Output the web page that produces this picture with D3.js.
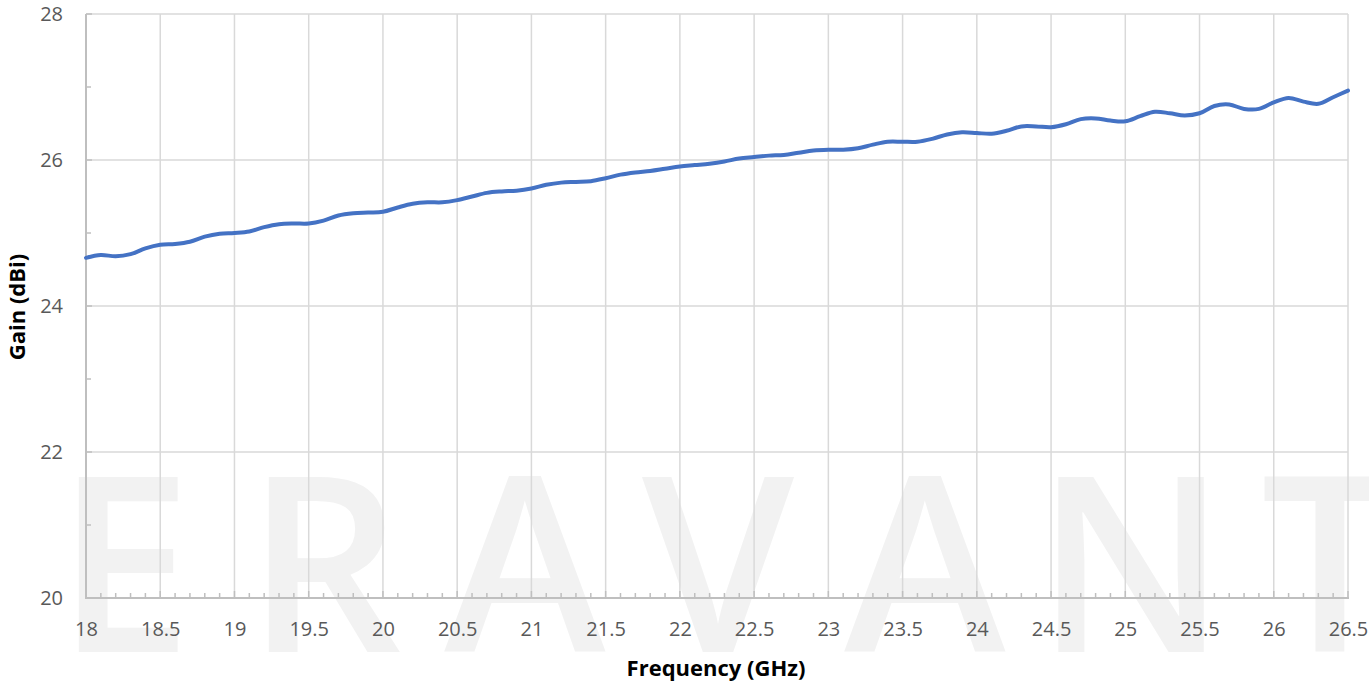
<!DOCTYPE html>
<html>
<head>
<meta charset="utf-8">
<script src="https://cdn.jsdelivr.net/npm/d3@7"></script>
<style>
  html, body { margin: 0; padding: 0; background: #ffffff; }
  svg { display: block; }
</style>
</head>
<body>
<svg id="chart" width="1369" height="684"></svg>
<script>
// Antenna gain across the K band, sampled every 0.1 GHz
const frequencies = [
  18.0, 18.1, 18.2, 18.3, 18.4, 18.5, 18.6, 18.7, 18.8, 18.9,
  19.0, 19.1, 19.2, 19.3, 19.4, 19.5, 19.6, 19.7, 19.8, 19.9,
  20.0, 20.1, 20.2, 20.3, 20.4, 20.5, 20.6, 20.7, 20.8, 20.9,
  21.0, 21.1, 21.2, 21.3, 21.4, 21.5, 21.6, 21.7, 21.8, 21.9,
  22.0, 22.1, 22.2, 22.3, 22.4, 22.5, 22.6, 22.7, 22.8, 22.9,
  23.0, 23.1, 23.2, 23.3, 23.4, 23.5, 23.6, 23.7, 23.8, 23.9,
  24.0, 24.1, 24.2, 24.3, 24.4, 24.5, 24.6, 24.7, 24.8, 24.9,
  25.0, 25.1, 25.2, 25.3, 25.4, 25.5, 25.6, 25.7, 25.8, 25.9,
  26.0, 26.1, 26.2, 26.3, 26.4, 26.5
];
const gainDbi = [
  24.66, 24.70, 24.68, 24.71, 24.79, 24.84, 24.85, 24.88, 24.95, 24.99,
  25.00, 25.02, 25.08, 25.12, 25.13, 25.13, 25.17, 25.24, 25.27, 25.28,
  25.29, 25.35, 25.40, 25.42, 25.42, 25.45, 25.50, 25.55, 25.57, 25.58,
  25.61, 25.66, 25.69, 25.70, 25.71, 25.75, 25.80, 25.83, 25.85, 25.88,
  25.91, 25.93, 25.95, 25.98, 26.02, 26.04, 26.06, 26.07, 26.10, 26.13,
  26.14, 26.14, 26.16, 26.21, 26.25, 26.25, 26.25, 26.29, 26.35, 26.38,
  26.37, 26.36, 26.40, 26.46, 26.46, 26.45, 26.49, 26.56, 26.57, 26.54,
  26.53, 26.60, 26.66, 26.64, 26.61, 26.64, 26.74, 26.76, 26.70, 26.70,
  26.79, 26.85, 26.80, 26.77, 26.86, 26.95
];
const xTickLabels = ["18", "18.5", "19", "19.5", "20", "20.5", "21", "21.5", "22",
                     "22.5", "23", "23.5", "24", "24.5", "25", "25.5", "26", "26.5"];
const yTickLabels = ["20", "22", "24", "26", "28"];
const watermarkLetters = ["E", "R", "A", "V", "A", "N", "T"];

const svg = d3.select("#chart");
const margin = { left: 86, right: 21, top: 14, bottom: 86 };
const W = 1369, H = 684;
const innerW = W - margin.left - margin.right;
const innerH = H - margin.top - margin.bottom;

const x = d3.scaleLinear().domain([18, 26.5]).range([margin.left, margin.left + innerW]);
const y = d3.scaleLinear().domain([20, 28]).range([margin.top + innerH, margin.top]);

const xMajor = xTickLabels.map(Number);
const yMajor = yTickLabels.map(Number);
const xMinor = d3.range(180, 266).map(v => v / 10).filter(v => !xMajor.some(m => Math.abs(m - v) < 1e-9));
const yMinor = d3.range(21, 28, 2);

// Brand watermark sitting behind the plot
const wm = svg.append("g").attr("class", "watermark");
const wmCenters = [124, 324, 525, 718, 925, 1131, 1330];
wm.selectAll("text")
  .data(watermarkLetters)
  .join("text")
  .attr("x", (d, i) => wmCenters[i])
  .attr("y", 652)
  .attr("text-anchor", "middle")
  .attr("font-family", "'Open Sans', sans-serif")
  .attr("font-weight", 600)
  .attr("font-size", 244)
  .attr("fill", "#f2f2f2")
  .text(d => d);

// Gridlines
const grid = svg.append("g").attr("class", "grid");
grid.selectAll("line.h")
  .data(yMajor.filter(v => v > 20))
  .join("line")
  .attr("class", "h")
  .attr("x1", x(18)).attr("x2", x(26.5))
  .attr("y1", d => y(d)).attr("y2", d => y(d))
  .attr("stroke", "#d9d9d9").attr("stroke-width", 1.5);
grid.selectAll("line.v")
  .data(xMajor.filter(v => v > 18))
  .join("line")
  .attr("class", "v")
  .attr("x1", d => x(d)).attr("x2", d => x(d))
  .attr("y1", y(20)).attr("y2", y(28))
  .attr("stroke", "#d9d9d9").attr("stroke-width", 1.5);

// Bottom axis: labels plus inward major/minor ticks
const axisColor = "#bfbfbf";
const xAxis = svg.append("g").attr("transform", `translate(0,${y(20)})`);
xAxis.call(d3.axisBottom(x).tickValues(xMajor).tickSize(0).tickPadding(24)
  .tickFormat((d, i) => xTickLabels[i]));
xAxis.select(".domain").remove();
xAxis.selectAll("text")
  .attr("font-family", "'Open Sans', sans-serif")
  .attr("font-size", 20)
  .attr("fill", "#595959");
xAxis.selectAll("line.minor")
  .data(xMinor)
  .join("line").attr("class", "minor")
  .attr("x1", d => x(d)).attr("x2", d => x(d))
  .attr("y1", 0).attr("y2", -5)
  .attr("stroke", axisColor).attr("stroke-width", 1.5);
xAxis.selectAll("line.major")
  .data(xMajor)
  .join("line").attr("class", "major")
  .attr("x1", d => x(d)).attr("x2", d => x(d))
  .attr("y1", 0).attr("y2", -7)
  .attr("stroke", axisColor).attr("stroke-width", 1.5);
xAxis.append("line")
  .attr("x1", x(18) - 1).attr("x2", x(26.5) + 1)
  .attr("y1", 0).attr("y2", 0)
  .attr("stroke", axisColor).attr("stroke-width", 2);

// Left axis
const yAxis = svg.append("g").attr("transform", `translate(${x(18)},0)`);
yAxis.call(d3.axisLeft(y).tickValues(yMajor).tickSize(0).tickPadding(23)
  .tickFormat((d, i) => yTickLabels[i]));
yAxis.select(".domain").remove();
yAxis.selectAll("text")
  .attr("font-family", "'Open Sans', sans-serif")
  .attr("font-size", 20)
  .attr("fill", "#595959");
yAxis.selectAll("line.minor")
  .data(yMinor)
  .join("line").attr("class", "minor")
  .attr("x1", 0).attr("x2", 5)
  .attr("y1", d => y(d)).attr("y2", d => y(d))
  .attr("stroke", axisColor).attr("stroke-width", 1.5);
yAxis.selectAll("line.major")
  .data(yMajor)
  .join("line").attr("class", "major")
  .attr("x1", 0).attr("x2", 6)
  .attr("y1", d => y(d)).attr("y2", d => y(d))
  .attr("stroke", axisColor).attr("stroke-width", 1.5);
yAxis.append("line")
  .attr("x1", 0).attr("x2", 0)
  .attr("y1", y(28)).attr("y2", y(20) + 1)
  .attr("stroke", axisColor).attr("stroke-width", 2);

// Gain curve
const points = frequencies.map((f, i) => [f, gainDbi[i]]);
const line = d3.line()
  .x(d => x(d[0]))
  .y(d => y(d[1]))
  .curve(d3.curveCatmullRom.alpha(0.5));
svg.append("path")
  .datum(points)
  .attr("d", line)
  .attr("fill", "none")
  .attr("stroke", "#4472c4")
  .attr("stroke-width", 4)
  .attr("stroke-linecap", "round")
  .attr("stroke-linejoin", "round");

// Axis titles
svg.append("text")
  .attr("x", 716)
  .attr("y", 676)
  .attr("text-anchor", "middle")
  .attr("font-family", "'Open Sans', sans-serif")
  .attr("font-weight", "bold")
  .attr("font-size", 22)
  .attr("fill", "#000000")
  .text("Frequency (GHz)");
svg.append("text")
  .attr("transform", `translate(25,307) rotate(-90)`)
  .attr("text-anchor", "middle")
  .attr("font-family", "'Open Sans', sans-serif")
  .attr("font-weight", "bold")
  .attr("font-size", 22)
  .attr("fill", "#000000")
  .text("Gain (dBi)");
</script>
</body>
</html>
